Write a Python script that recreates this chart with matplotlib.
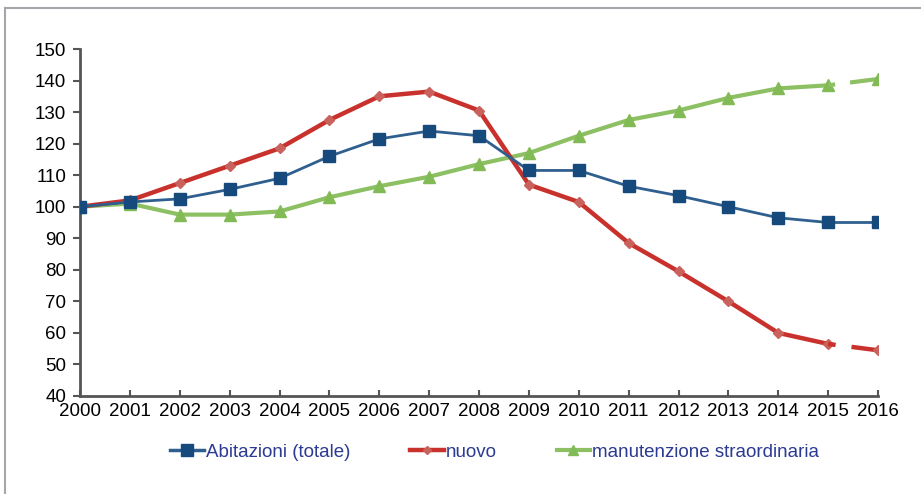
import matplotlib.pyplot as plt
from matplotlib.lines import Line2D

plt.rcParams['font.family'] = ['Liberation Sans', 'DejaVu Sans']

years = list(range(2000, 2017))
abitazioni = [100, 101.5, 102.5, 105.5, 109, 116, 121.5, 124, 122.5, 111.5,
              111.5, 106.5, 103.5, 100, 96.5, 95, 95]
nuovo = [100, 102, 107.5, 113, 118.5, 127.5, 135, 136.5, 130.5, 107,
         101.5, 88.5, 79.5, 70, 60, 56.5, 54.5]
manutenzione = [100, 101, 97.5, 97.5, 98.5, 103, 106.5, 109.5, 113.5, 117,
                122.5, 127.5, 130.5, 134.5, 137.5, 138.5, 140.5]
labels = ["Abitazioni (totale)", "nuovo", "manutenzione straordinaria"]

BLUE_LINE = "#2f5f8f"
BLUE_MK = "#174a7c"
RED_LINE = "#c8312c"
RED_MK = "#c9625c"
GREEN_LINE = "#8cc063"
GREEN_MK = "#82bb55"
TEXT_BLUE = "#2b3a92"

# dash used for the last (estimated) segment
last_dash = (0, (1.7, 3.6, 7, 3.6))

fig = plt.figure(figsize=(9.21, 4.94), dpi=100)
ax = fig.add_axes([0.0869, 0.1984, 0.8664, 0.7024])

# frame lines around the figure (top and left only)
fig.add_artist(Line2D([5 / 921, 1], [1 - 8 / 494] * 2, color="#a3a7ab", lw=1.5))
fig.add_artist(Line2D([5 / 921] * 2, [0, 1 - 8 / 494], color="#a3a7ab", lw=1.5))

# green
ax.plot(years[:-1], manutenzione[:-1], color=GREEN_LINE, lw=3, marker="^",
        ms=9, mfc=GREEN_MK, mec=GREEN_MK, zorder=2)
ax.plot(years[-2:], manutenzione[-2:], color=GREEN_LINE, lw=3, ls=last_dash,
        marker="^", ms=9, mfc=GREEN_MK, mec=GREEN_MK, markevery=[1], zorder=2)

# red
ax.plot(years[:-1], nuovo[:-1], color=RED_LINE, lw=3.2, marker="D",
        ms=5, mfc=RED_MK, mec=RED_MK, zorder=3)
ax.plot(years[-2:], nuovo[-2:], color=RED_LINE, lw=3.2, ls=last_dash,
        marker="D", ms=5, mfc=RED_MK, mec=RED_MK, markevery=[1], zorder=3)

# blue
ax.plot(years, abitazioni, color=BLUE_LINE, lw=2, marker="s",
        ms=9, mfc=BLUE_MK, mec=BLUE_MK, zorder=4)

ax.set_xlim(2000, 2016)
ax.set_ylim(40, 150)
ax.set_xticks(years)
ax.set_yticks(range(40, 151, 10))
ax.tick_params(axis="y", direction="out", length=5, width=1.5, color="#555555",
               labelsize=13.5, pad=5)
ax.tick_params(axis="x", direction="in", length=4, width=1.5, color="#555555",
               labelsize=13.5, pad=5)
for s in ["top", "right"]:
    ax.spines[s].set_visible(False)
for s in ["left", "bottom"]:
    ax.spines[s].set_color("#555555")
    ax.spines[s].set_linewidth(2)

handles = [
    Line2D([], [], color=BLUE_LINE, lw=2.5, marker="s", ms=8, mfc=BLUE_MK, mec=BLUE_MK),
    Line2D([], [], color=RED_LINE, lw=3.2, marker="D", ms=4, mfc=RED_MK, mec=RED_MK),
    Line2D([], [], color=GREEN_LINE, lw=3, marker="^", ms=7, mfc=GREEN_MK, mec=GREEN_MK),
]
leg = fig.legend(handles, labels, loc="center", bbox_to_anchor=(494.5 / 921, 1 - 452 / 494),
                 ncol=3, frameon=False, fontsize=13.5, handlelength=1.8,
                 handletextpad=0.1, columnspacing=3.2)
for t in leg.get_texts():
    t.set_color(TEXT_BLUE)

fig.savefig("out.png", dpi=100)
